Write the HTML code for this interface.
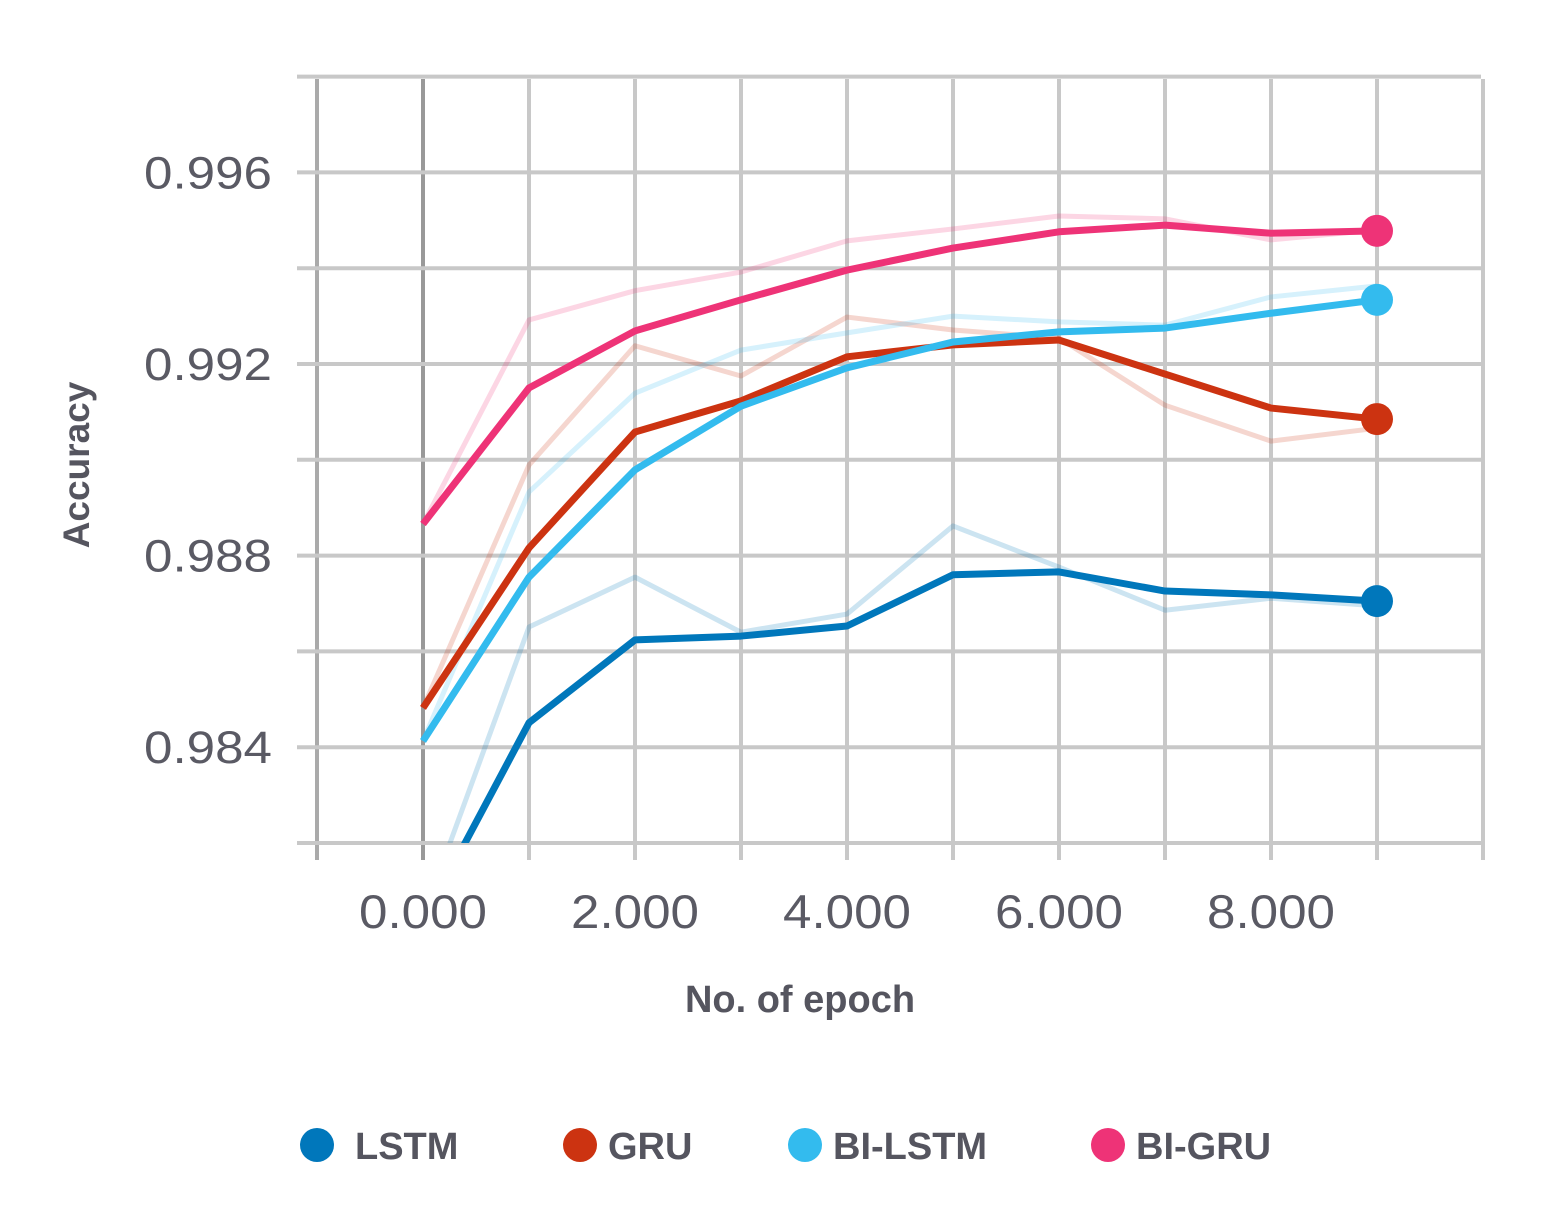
<!DOCTYPE html>
<html><head><meta charset="utf-8"><style>
html,body{margin:0;padding:0;background:#fff;width:1567px;height:1219px;overflow:hidden}
svg{display:block}
text{font-family:"Liberation Sans",sans-serif}
</style></head><body>
<svg id="chart" width="1567" height="1219" viewBox="0 0 1567 1219">
<g id="grid"></g>
<defs><clipPath id="plotclip"><rect x="297" y="60" width="1200" height="783"/></clipPath></defs>
<g id="raw" clip-path="url(#plotclip)"></g>
<g id="smooth" clip-path="url(#plotclip)"></g>
<g id="dots"></g>
<g id="ticks"></g>
<text x="0" y="0" transform="translate(89,465) rotate(-90)" text-anchor="middle" font-size="37" font-weight="bold" fill="#55555f">Accuracy</text>
<text x="800" y="1012" text-anchor="middle" font-size="38" font-weight="bold" fill="#55555f">No. of epoch</text>
<g id="legend"></g>
</svg>
<script>
const epochs=[0,1,2,3,4,5,6,7,8,9];
const seriesNames=["LSTM","GRU","BI-LSTM","BI-GRU"];
const seriesColors=["#0077bb","#cc3311","#33bbee","#ee3377"];
const lstmSmooth=[0.98035,0.98451,0.98624,0.98632,0.98653,0.98760,0.98766,0.98726,0.98718,0.98705];
const lstmRaw=[0.98046,0.98651,0.98755,0.98640,0.98678,0.98862,0.98776,0.98686,0.98711,0.98695];
const gruSmooth=[0.98482,0.98816,0.99058,0.99123,0.99215,0.99240,0.99250,0.99179,0.99108,0.99085];
const gruRaw=[0.98482,0.98989,0.99238,0.99175,0.99298,0.99271,0.99254,0.99114,0.99039,0.99066];
const bilstmSmooth=[0.98413,0.98755,0.98979,0.99112,0.99192,0.99246,0.99267,0.99275,0.99306,0.99334];
const bilstmRaw=[0.98413,0.98933,0.99139,0.99229,0.99265,0.99300,0.99288,0.99281,0.99340,0.99363];
const bigruSmooth=[0.98866,0.99150,0.99269,0.99334,0.99396,0.99442,0.99476,0.99490,0.99473,0.99478];
const bigruRaw=[0.98866,0.99292,0.99353,0.99392,0.99457,0.99482,0.99509,0.99503,0.99459,0.99480];
const xTickValues=[0,2,4,6,8];
const xTickLabels=["0.000","2.000","4.000","6.000","8.000"];
const yTickValues=[0.984,0.988,0.992,0.996];
const yTickLabels=["0.984","0.988","0.992","0.996"];

const NS="http://www.w3.org/2000/svg";
const X=v=>423+106*v;
const Y=v=>843-(v-0.982)*47900;
function mk(tag,attrs,parent){const e=document.createElementNS(NS,tag);for(const k in attrs)e.setAttribute(k,attrs[k]);parent.appendChild(e);return e;}
const grid=document.getElementById('grid');
for(let g=-1;g<=10;g++){
  const l=mk('line',{x1:X(g),x2:X(g),y1:79,y2:860,stroke:(g===0)?'#999':(g===-1?'#aaa':'#c8c8c8'),'stroke-width':4},grid);
  
  
}
for(let i=0;i<=8;i++){
  const v=0.982+0.002*i;
  const l=mk('line',{x1:297,x2:1481,y1:Y(v),y2:Y(v),stroke:'#c8c8c8','stroke-width':4},grid);
  
  
}
const ticks=document.getElementById('ticks');
xTickValues.forEach((v,i)=>{const t=mk('text',{x:X(v),y:928,'text-anchor':'middle','font-size':47,fill:'#5a5a64','textLength':128,'lengthAdjust':'spacingAndGlyphs'},ticks);t.textContent=xTickLabels[i];
  
  });
yTickValues.forEach((v,i)=>{const t=mk('text',{x:272,y:Y(v)+16,'text-anchor':'end','font-size':45,fill:'#5a5a64','textLength':128,'lengthAdjust':'spacingAndGlyphs'},ticks);t.textContent=yTickLabels[i];
  
  });
const raws=[lstmRaw,gruRaw,bilstmRaw,bigruRaw];
const smooths=[lstmSmooth,gruSmooth,bilstmSmooth,bigruSmooth];
const pts=a=>a.map((v,i)=>X(epochs[i])+','+Y(v)).join(' ');
const rawG=document.getElementById('raw'),smG=document.getElementById('smooth'),dG=document.getElementById('dots'),lg=document.getElementById('legend');
const legX=[317,580,805,1108];
seriesNames.forEach((n,s)=>{
  const r=mk('polyline',{points:pts(raws[s]),fill:'none',stroke:seriesColors[s],'stroke-opacity':0.2,'stroke-width':5,'stroke-linejoin':'round'},rawG);
  
  
  const p=mk('polyline',{points:pts(smooths[s]),fill:'none',stroke:seriesColors[s],'stroke-width':7,'stroke-linejoin':'round'},smG);
  
  
  const last=smooths[s].length-1;
  const c=mk('circle',{cx:X(epochs[last]),cy:Y(smooths[s][last]),r:16,fill:seriesColors[s]},dG);
  
  
  const lc=mk('circle',{cx:legX[s],cy:1145,r:17,fill:seriesColors[s]},lg);
  
  
  const lt=mk('text',{x:legX[s]+(s===0?38:28),y:1159,'font-size':38,'font-weight':'bold',fill:'#55555f'},lg);
  lt.textContent=n;
  
  
});
</script>
</body></html>
